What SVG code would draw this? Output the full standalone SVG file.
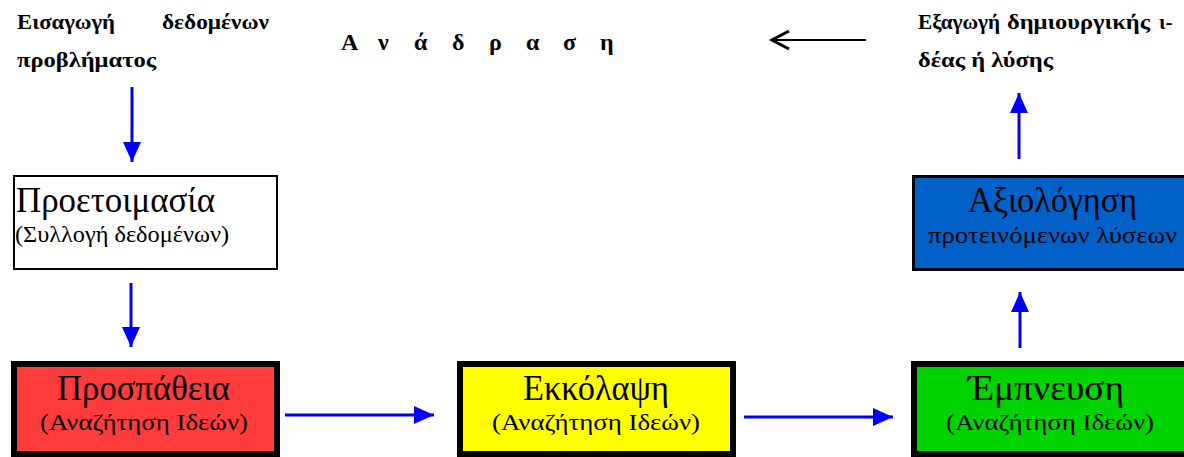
<svg xmlns="http://www.w3.org/2000/svg" width="1184" height="457" viewBox="0 0 1184 457">
<style>
.lbl{font-family:"Liberation Serif","DejaVu Serif",serif;font-weight:bold;font-size:21px;fill:#000}
.big{font-family:"Liberation Serif","DejaVu Serif",serif;font-size:35px;fill:#000}
.sub{font-family:"Liberation Serif","DejaVu Serif",serif;font-size:24px;fill:#000}
.thick{stroke:#000;stroke-width:6}
.bl{stroke:#0000FF;stroke-width:3;fill:none}
</style>
<defs>
<marker id="ah" markerUnits="userSpaceOnUse" markerWidth="22" markerHeight="20" refX="20" refY="9" orient="auto">
<path d="M0,0 L20,9 L0,18 Z" fill="#0000FF"/>
</marker>
</defs>
<rect width="1184" height="457" fill="#fff"/>
<g id="top-texts">
<text class="lbl" y="29"><tspan x="17" textLength="98" lengthAdjust="spacingAndGlyphs">Εισαγωγή</tspan> <tspan x="162" textLength="107" lengthAdjust="spacingAndGlyphs">δεδομένων</tspan></text>
<text class="lbl" x="17" y="67" textLength="139" lengthAdjust="spacingAndGlyphs">προβλήματος</text>
<text class="lbl" y="50" style="font-size:24px"><tspan x="341">Α</tspan> <tspan x="378">ν</tspan> <tspan x="414">ά</tspan> <tspan x="452">δ</tspan> <tspan x="489">ρ</tspan> <tspan x="526">α</tspan> <tspan x="563">σ</tspan> <tspan x="600">η</tspan></text>
<text class="lbl" y="29"><tspan x="918" textLength="82" lengthAdjust="spacingAndGlyphs">Εξαγωγή</tspan> <tspan x="1007" textLength="143" lengthAdjust="spacingAndGlyphs">δημιουργικής</tspan> <tspan x="1159">ι-</tspan></text>
<text class="lbl" x="918" y="67" textLength="135" lengthAdjust="spacingAndGlyphs">δέας ή λύσης</text>
</g>
<g id="connectors">
<line x1="866" y1="40" x2="773" y2="40" stroke="#000" stroke-width="2"/>
<polyline points="789,31 772,40 789,49" fill="none" stroke="#000" stroke-width="3"/>
<line class="bl" x1="132" y1="87" x2="132" y2="162" marker-end="url(#ah)"/>
<line class="bl" x1="131" y1="283" x2="131" y2="347" marker-end="url(#ah)"/>
<line class="bl" x1="285" y1="415" x2="434" y2="415" marker-end="url(#ah)"/>
<line class="bl" x1="744" y1="417" x2="893" y2="417" marker-end="url(#ah)"/>
<line class="bl" x1="1020" y1="348" x2="1020" y2="292" marker-end="url(#ah)"/>
<line class="bl" x1="1019" y1="159" x2="1019" y2="93" marker-end="url(#ah)"/>
</g>
<g id="node-proetoimasia">
<rect x="14" y="176" width="263" height="93" fill="#fff" stroke="#000" stroke-width="2"/>
<text class="big" x="16" y="212" textLength="199" lengthAdjust="spacingAndGlyphs">Προετοιμασία</text>
<text class="sub" x="15" y="242" style="font-size:23px" textLength="214" lengthAdjust="spacingAndGlyphs">(Συλλογή δεδομένων)</text>
</g>
<g id="node-axiologisi">
<rect x="913.5" y="176.5" width="290" height="93" fill="#0062C8" stroke="#000" stroke-width="3"/>
<text class="big" x="968" y="212" textLength="169" lengthAdjust="spacingAndGlyphs">Αξιολόγηση</text>
<text class="sub" x="928" y="243" textLength="249" lengthAdjust="spacingAndGlyphs">προτεινόμενων λύσεων</text>
</g>
<g id="node-prospatheia">
<rect class="thick" x="14" y="364" width="263" height="90" fill="#FF3B3B"/>
<text class="big" x="57" y="400" textLength="173" lengthAdjust="spacingAndGlyphs">Προσπάθεια</text>
<text class="sub" x="40" y="430" textLength="208" lengthAdjust="spacingAndGlyphs">(Αναζήτηση Ιδεών)</text>
</g>
<g id="node-ekkolapsi">
<rect class="thick" x="460" y="364" width="273" height="90" fill="#FFFF00"/>
<text class="big" x="523" y="400" textLength="146" lengthAdjust="spacingAndGlyphs">Εκκόλαψη</text>
<text class="sub" x="492" y="430" textLength="208" lengthAdjust="spacingAndGlyphs">(Αναζήτηση Ιδεών)</text>
</g>
<g id="node-empneusi">
<rect class="thick" x="914" y="364" width="290" height="90" fill="#00D400"/>
<text class="big" x="968" y="400" textLength="156" lengthAdjust="spacingAndGlyphs">Έμπνευση</text>
<text class="sub" x="946" y="430" textLength="208" lengthAdjust="spacingAndGlyphs">(Αναζήτηση Ιδεών)</text>
</g>
</svg>
